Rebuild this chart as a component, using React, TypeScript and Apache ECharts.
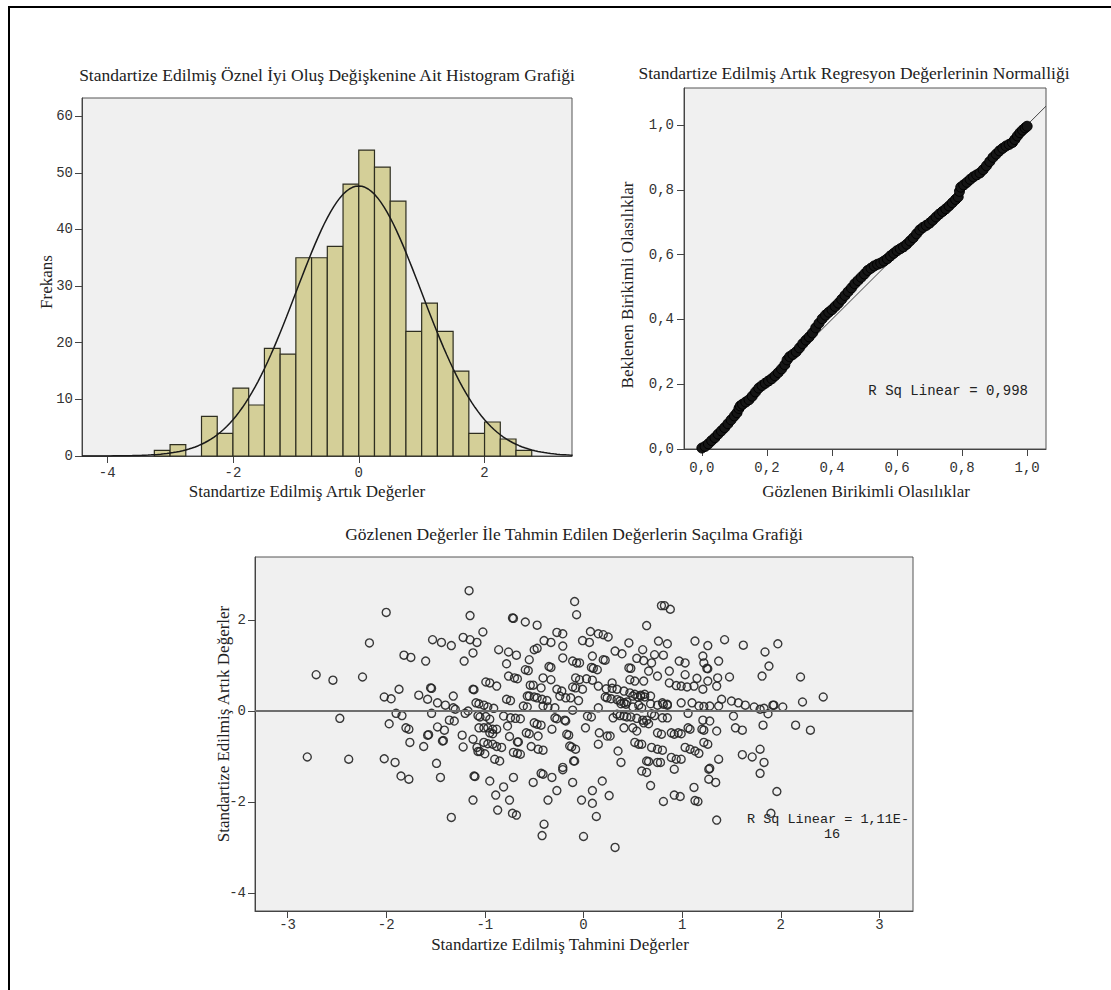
import { useEffect, useRef } from "react";
import * as echarts from "echarts";

// ---------- Histogram (standardized residuals) ----------
const HIST_BIN_WIDTH = 0.25;
const histBinLower = [-3.25, -3.0, -2.75, -2.5, -2.25, -2.0, -1.75, -1.5, -1.25, -1.0, -0.75, -0.5, -0.25, 0, 0.25, 0.5, 0.75, 1.0, 1.25, 1.5, 1.75, 2.0, 2.25, 2.5];
const histCounts = [1, 2, 0, 7, 4, 12, 9, 19, 18, 35, 35, 37, 48, 54, 51, 45, 22, 27, 22, 15, 4, 6, 3, 1];
const HIST_N = 477;
const HIST_MEAN = 0;
const HIST_SD = 0.998;
const histXTicks = [-4, -2, 0, 2];
const histYTicks = [0, 10, 20, 30, 40, 50, 60];

// ---------- P-P plot ----------
const ppObserved = [0.0, 0.01, 0.02, 0.03, 0.04, 0.05, 0.06, 0.07, 0.08, 0.09, 0.1, 0.108, 0.114, 0.118, 0.125, 0.135, 0.145, 0.155, 0.165, 0.175, 0.185, 0.195, 0.205, 0.215, 0.225, 0.235, 0.245, 0.255, 0.262, 0.27, 0.28, 0.29, 0.3, 0.31, 0.32, 0.33, 0.34, 0.35, 0.36, 0.37, 0.38, 0.39, 0.4, 0.41, 0.42, 0.43, 0.44, 0.45, 0.46, 0.47, 0.48, 0.49, 0.5, 0.51, 0.52, 0.53, 0.54, 0.55, 0.56, 0.57, 0.58, 0.59, 0.6, 0.61, 0.62, 0.63, 0.64, 0.65, 0.66, 0.67, 0.68, 0.69, 0.7, 0.71, 0.72, 0.73, 0.74, 0.75, 0.76, 0.77, 0.78, 0.788, 0.792, 0.796, 0.805, 0.815, 0.825, 0.835, 0.845, 0.855, 0.865, 0.875, 0.885, 0.895, 0.905, 0.915, 0.925, 0.935, 0.945, 0.955, 0.962, 0.97, 0.978, 0.986, 0.994, 1.0];
const ppExpected = [0.003, 0.008, 0.016, 0.026, 0.035, 0.046, 0.056, 0.066, 0.078, 0.09, 0.102, 0.112, 0.125, 0.133, 0.138, 0.145, 0.152, 0.163, 0.176, 0.188, 0.196, 0.203, 0.21, 0.217, 0.226, 0.236, 0.247, 0.26, 0.275, 0.285, 0.292, 0.3, 0.312, 0.325, 0.336, 0.346, 0.358, 0.374, 0.388, 0.402, 0.413, 0.422, 0.43, 0.44, 0.45, 0.462, 0.474, 0.486, 0.497, 0.51, 0.52, 0.53, 0.54, 0.551, 0.558, 0.565, 0.57, 0.574, 0.58, 0.587, 0.596, 0.604, 0.612, 0.618, 0.624, 0.632, 0.642, 0.652, 0.664, 0.676, 0.684, 0.69, 0.697, 0.706, 0.716, 0.725, 0.733, 0.741, 0.75, 0.76, 0.77, 0.778, 0.795, 0.808, 0.815, 0.823, 0.832, 0.84, 0.846, 0.852, 0.862, 0.874, 0.887, 0.9, 0.91, 0.92, 0.928, 0.935, 0.94, 0.946, 0.955, 0.966, 0.976, 0.984, 0.991, 0.996];
const ppTicks = [0, 0.2, 0.4, 0.6, 0.8, 1.0];

// ---------- Scatter (standardized predicted vs standardized residual) ----------
const scatterPoints: [number, number][] = [
  [-1.16, 2.65], [-0.09, 2.41], [0.79, 2.32], [0.82, 2.32], [0.88, 2.24], [-2.0, 2.17], [-1.15, 2.1], [-0.07, 2.12], [-0.72, 2.05], [-0.71, 2.04],
  [-0.59, 1.96], [-0.47, 1.89], [0.64, 1.88], [-1.02, 1.74], [-0.27, 1.73], [-0.21, 1.7], [0.07, 1.75], [0.15, 1.7], [0.2, 1.68], [0.25, 1.63],
  [-1.22, 1.62], [-1.15, 1.57], [-1.08, 1.51], [-1.53, 1.57], [-1.44, 1.51], [-1.34, 1.44], [-2.17, 1.5], [-0.4, 1.55], [-0.33, 1.51], [-0.01, 1.55],
  [0.06, 1.51], [-0.5, 1.35], [-0.47, 1.38], [-0.21, 1.43], [0.46, 1.5], [0.76, 1.54], [0.85, 1.48], [1.13, 1.54], [1.26, 1.44], [1.43, 1.57],
  [1.62, 1.45], [1.97, 1.48], [1.84, 1.3], [-0.86, 1.35], [-0.76, 1.3], [-0.68, 1.23], [0.32, 1.32], [0.39, 1.26], [0.6, 1.35], [0.72, 1.24],
  [0.81, 1.23], [-1.82, 1.23], [-1.75, 1.18], [-1.6, 1.1], [-1.21, 1.1], [-1.12, 1.28], [-0.78, 1.04], [-0.55, 1.13], [-0.21, 1.17], [-0.11, 1.1],
  [-0.07, 1.06], [-0.04, 1.06], [0.09, 1.21], [0.2, 1.13], [0.22, 1.12], [0.54, 1.16], [0.61, 1.11], [0.69, 1.06], [0.97, 1.1], [1.03, 1.06],
  [1.21, 1.21], [1.22, 1.06], [1.37, 1.1], [1.25, 0.94], [1.26, 0.93], [1.88, 0.99], [-2.71, 0.8], [-2.54, 0.68], [-2.24, 0.75], [1.81, 0.77],
  [2.2, 0.75], [1.48, 0.75], [-0.59, 0.91], [-0.56, 0.89], [-0.35, 0.98], [-0.33, 0.96], [0.08, 0.96], [0.1, 0.94], [0.14, 0.91], [0.46, 0.95],
  [0.48, 0.94], [0.66, 0.88], [0.75, 0.77], [0.87, 0.88], [1.03, 0.8], [1.15, 0.72], [1.26, 0.66], [1.36, 0.73], [-0.76, 0.77], [-0.7, 0.73],
  [-0.67, 0.71], [-0.41, 0.73], [-0.33, 0.69], [-0.08, 0.73], [-0.04, 0.69], [0.03, 0.71], [0.09, 0.68], [0.29, 0.62], [0.47, 0.69], [0.52, 0.66],
  [0.61, 0.66], [0.87, 0.62], [0.94, 0.56], [0.99, 0.55], [1.05, 0.53], [1.12, 0.55], [1.21, 0.48], [1.35, 0.55], [-0.99, 0.64], [-0.95, 0.62],
  [-0.88, 0.55], [-0.54, 0.57], [-0.51, 0.57], [-0.43, 0.51], [-0.27, 0.48], [-0.22, 0.44], [-0.11, 0.53], [-0.08, 0.51], [-0.01, 0.48], [0.15, 0.55],
  [0.23, 0.49], [0.29, 0.5], [0.34, 0.48], [0.41, 0.44], [0.47, 0.4], [0.52, 0.37], [0.58, 0.35], [0.62, 0.37], [0.68, 0.33], [-1.55, 0.51],
  [-1.54, 0.5], [-1.87, 0.48], [-1.12, 0.48], [-1.11, 0.47], [-1.32, 0.33], [-1.67, 0.35], [-2.02, 0.31], [-1.95, 0.27], [-0.57, 0.33], [-0.55, 0.33],
  [-0.5, 0.31], [-0.47, 0.29], [-0.42, 0.26], [-0.37, 0.23], [-0.24, 0.33], [-0.18, 0.29], [-0.13, 0.29], [-0.05, 0.23], [0.22, 0.31], [0.24, 0.29],
  [0.28, 0.27], [0.34, 0.25], [0.37, 0.22], [0.41, 0.18], [0.44, 0.2], [0.5, 0.33], [0.55, 0.31], [0.58, 0.33], [0.62, 0.31], [0.8, 0.18],
  [0.85, 0.15], [0.99, 0.18], [1.1, 0.18], [1.17, 0.11], [1.22, 0.1], [1.28, 0.11], [1.37, 0.11], [1.4, 0.26], [1.5, 0.22], [1.57, 0.18],
  [1.64, 0.13], [1.73, 0.09], [1.79, 0.04], [1.83, 0.06], [1.87, -0.06], [1.92, 0.13], [1.93, 0.13], [2.02, 0.09], [2.22, 0.2], [2.43, 0.31],
  [-1.58, 0.26], [-1.48, 0.18], [-1.4, 0.13], [-1.32, 0.07], [-1.3, 0.04], [-1.17, 0.0], [-1.09, 0.18], [-1.06, 0.16], [-1.01, 0.13], [-0.97, 0.09],
  [-0.91, 0.06], [-0.78, 0.26], [-0.74, 0.23], [-0.61, 0.11], [-0.57, 0.09], [-0.41, 0.11], [-0.36, 0.09], [-0.29, 0.07], [-0.11, 0.02], [0.15, 0.07],
  [0.38, 0.16], [0.43, 0.15], [0.5, 0.09], [0.56, 0.13], [0.59, 0.07], [0.68, 0.16], [0.75, 0.13], [0.81, 0.15], [0.85, 0.13], [1.06, -0.05],
  [-2.47, -0.16], [-1.9, -0.05], [-1.84, -0.1], [-1.97, -0.28], [-1.8, -0.37], [-1.77, -0.4], [-1.76, -0.69], [-1.58, -0.53], [-1.57, -0.52], [-1.62, -0.78],
  [-1.48, -0.35], [-1.41, -0.42], [-1.43, -0.66], [-1.42, -0.65], [-1.54, -0.05], [-1.36, -0.2], [-1.31, -0.22], [-1.23, -0.53], [-1.2, -0.05], [-1.12, -0.62],
  [-1.08, -0.8], [-1.07, -0.89], [-1.05, -0.89], [-1.22, -0.79], [-1.07, -0.1], [-1.05, -0.13], [-0.99, -0.12], [-0.95, -0.18], [-1.06, -0.37], [-1.01, -0.37],
  [-0.97, -0.37], [-0.92, -0.4], [-0.88, -0.4], [-0.95, -0.48], [-0.92, -0.5], [-1.01, -0.69], [-0.97, -0.72], [-0.92, -0.73], [-0.88, -0.78], [-0.83, -0.8],
  [-1.0, -0.94], [-0.9, -1.06], [-0.85, -1.1], [-0.81, -0.11], [-0.74, -0.15], [-0.69, -0.16], [-0.64, -0.17], [-0.77, -0.33], [-0.75, -0.56], [-0.67, -0.68],
  [-0.66, -0.68], [-0.71, -0.91], [-0.67, -0.93], [-0.64, -0.95], [-0.58, -0.48], [-0.55, -0.5], [-0.46, -0.55], [-0.53, -0.78], [-0.46, -0.84], [-0.41, -0.86],
  [-0.5, -0.26], [-0.47, -0.29], [-0.43, -0.31], [-0.29, -0.15], [-0.27, -0.17], [-0.32, -0.4], [-0.19, -0.2], [-0.18, -0.22], [-0.17, -0.51], [-0.15, -0.53],
  [-0.14, -0.77], [-0.12, -0.79], [-0.08, -0.84], [-0.1, -1.1], [0.02, -0.37], [0.04, -0.11], [0.08, -0.13], [0.16, -0.48], [0.24, -0.55], [0.27, -0.55],
  [0.15, -0.73], [0.3, -0.15], [0.34, -0.07], [0.37, -0.1], [0.41, -0.11], [0.44, -0.13], [0.48, -0.13], [0.54, -0.16], [0.6, -0.2], [0.64, -0.2],
  [0.35, -0.88], [0.38, -1.13], [0.41, -0.37], [0.5, -0.37], [0.54, -0.44], [0.61, -0.26], [0.66, -0.28], [0.52, -0.69], [0.56, -0.73], [0.59, -0.73],
  [0.64, -1.1], [0.66, -1.11], [0.59, -1.32], [0.64, -1.35], [0.69, -0.06], [0.72, -0.1], [0.8, -0.15], [0.85, -0.15], [0.75, -0.48], [0.79, -0.51],
  [0.69, -0.8], [0.75, -0.84], [0.8, -0.86], [0.75, -1.13], [0.78, -1.13], [0.68, -1.64], [0.81, -1.99], [0.89, -0.48], [0.92, -0.51], [0.96, -0.48],
  [0.99, -0.5], [0.89, -1.02], [0.94, -1.06], [0.99, -1.06], [0.92, -1.28], [0.92, -1.85], [0.98, -1.88], [1.06, -0.37], [1.08, -0.4], [1.03, -0.8],
  [1.08, -0.84], [1.13, -0.88], [1.17, -0.93], [1.13, -1.97], [1.16, -1.99], [1.12, -1.68], [1.21, -0.2], [1.28, -0.22], [1.2, -0.4], [1.22, -0.42],
  [1.22, -0.69], [1.26, -0.73], [1.35, -0.44], [1.37, -1.06], [1.28, -1.26], [1.27, -1.28], [1.27, -1.5], [1.34, -1.57], [1.35, -2.4], [1.52, -0.11],
  [1.54, -0.37], [1.61, -0.42], [1.61, -0.96], [1.71, -1.01], [1.79, -0.84], [1.82, -0.31], [1.83, -1.13], [1.79, -1.37], [1.96, -1.77], [1.9, -2.25],
  [2.15, -0.31], [2.3, -0.42], [-2.8, -1.01], [-2.38, -1.06], [-2.02, -1.05], [-1.91, -1.13], [-1.85, -1.43], [-1.77, -1.5], [-1.49, -1.15], [-1.45, -1.46],
  [-1.34, -2.34], [-1.11, -1.43], [-1.1, -1.44], [-1.12, -1.96], [-0.95, -1.54], [-0.81, -1.67], [-0.89, -1.85], [-0.87, -2.18], [-0.75, -1.96], [-0.72, -2.25],
  [-0.68, -2.29], [-0.71, -1.46], [-0.51, -1.57], [-0.43, -1.37], [-0.41, -1.39], [-0.32, -1.46], [-0.36, -1.96], [-0.4, -2.49], [-0.42, -2.74], [-0.27, -1.75],
  [-0.21, -1.29], [-0.21, -1.24], [-0.11, -1.57], [-0.09, -1.1], [-0.02, -1.96], [0.0, -2.76], [0.09, -1.75], [0.09, -2.03], [0.13, -2.32], [0.19, -1.54],
  [0.26, -1.86], [0.32, -3.0],
];
const scatterXTicks = [-3, -2, -1, 0, 1, 2, 3];
const scatterYTicks = [-4, -2, 0, 2];

// ---------- Texts ----------
const histTitle = "Standartize Edilmiş Öznel İyi Oluş Değişkenine Ait Histogram Grafiği";
const histXName = "Standartize Edilmiş Artık Değerler";
const histYName = "Frekans";
const ppTitle = "Standartize Edilmiş Artık Regresyon Değerlerinin Normalliği";
const ppXName = "Gözlenen Birikimli Olasılıklar";
const ppYName = "Beklenen Birikimli Olasılıklar";
const ppRsq = "R Sq Linear = 0,998";
const scTitle = "Gözlenen Değerler İle Tahmin Edilen Değerlerin Saçılma Grafiği";
const scXName = "Standartize Edilmiş Tahmini Değerler";
const scYName = "Standartize Edilmiş Artık Değerler";
const scRsqLine1 = "R Sq Linear = 1,11E-";
const scRsqLine2 = "16";

const SERIF = '"Liberation Serif", "Times New Roman", serif';
const MONO = '"Liberation Mono", "Courier New", monospace';

function valueAxis(gridIndex: number, min: number, max: number, ticks: number[], fmt: (v: number) => string, labelMargin: number) {
  return {
    type: "value",
    gridIndex,
    min,
    max,
    axisLine: { show: true, onZero: false, lineStyle: { color: "#444", width: 1 } },
    axisTick: { show: true, length: 7, customValues: ticks, lineStyle: { color: "#444", width: 1 } },
    axisLabel: { customValues: ticks, formatter: fmt, fontFamily: MONO, fontSize: 14, color: "#333", margin: labelMargin },
    splitLine: { show: false },
  };
}

const intFmt = (v: number) => String(Math.round(v));
const commaFmt = (v: number) => v.toFixed(1).replace(".", ",");

function label(text: string, x: number, y: number, font: string, rotated = false, align = "center") {
  return {
    type: "text",
    x,
    y,
    rotation: rotated ? Math.PI / 2 : 0,
    silent: true,
    style: { text, font, fill: "#222", textAlign: align, textVerticalAlign: "middle" },
  };
}

export default function App() {
  const ref = useRef<HTMLDivElement>(null);

  useEffect(() => {
    document.body.style.margin = "0";
    if (!ref.current) return;
    const chart = echarts.init(ref.current, undefined, { renderer: "svg" });

    const histData = histBinLower
      .map((lo, i) => [lo, lo + HIST_BIN_WIDTH, histCounts[i]])
      .filter((d) => d[2] > 0);

    const curve: [number, number][] = [];
    for (let x = -4.4; x <= 3.4; x += 0.05) {
      const z = (x - HIST_MEAN) / HIST_SD;
      curve.push([x, (HIST_N * HIST_BIN_WIDTH) / (HIST_SD * Math.sqrt(2 * Math.PI)) * Math.exp(-0.5 * z * z)]);
    }

    const ppData = ppObserved.map((o, i) => [o, ppExpected[i]]);

    const gridStyle = { show: true, backgroundColor: "#f0f0f0", borderColor: "#555", borderWidth: 1, containLabel: false };
    const nameFont = `17px ${SERIF}`;
    const titleFont = `17.5px ${SERIF}`;

    chart.setOption({
      animation: false,
      backgroundColor: "#ffffff",
      grid: [
        { ...gridStyle, left: 82, top: 98, width: 490, height: 358 },
        { ...gridStyle, left: 684, top: 88, width: 362, height: 361 },
        { ...gridStyle, left: 255, top: 557, width: 658, height: 354 },
      ],
      xAxis: [
        valueAxis(0, -4.4, 3.39, histXTicks, intFmt, 10),
        valueAxis(1, -0.055, 1.058, ppTicks, commaFmt, 12),
        valueAxis(2, -3.33, 3.34, scatterXTicks, intFmt, 7),
      ],
      yAxis: [
        valueAxis(0, 0, 63.2, histYTicks, intFmt, 9),
        valueAxis(1, 0, 1.114, ppTicks, commaFmt, 10),
        valueAxis(2, -4.4, 3.39, scatterYTicks, intFmt, 9),
      ],
      series: [
        {
          type: "custom",
          xAxisIndex: 0,
          yAxisIndex: 0,
          data: histData,
          encode: { x: [0, 1], y: 2 },
          renderItem: (_params: any, api: any) => {
            const p0 = api.coord([api.value(0), api.value(2)]);
            const p1 = api.coord([api.value(1), 0]);
            return {
              type: "rect",
              shape: { x: p0[0], y: p0[1], width: p1[0] - p0[0], height: p1[1] - p0[1] },
              style: { fill: "#d4cf98", stroke: "#2e2e20", lineWidth: 1.2 },
            };
          },
          z: 2,
        },
        {
          type: "line",
          xAxisIndex: 0,
          yAxisIndex: 0,
          data: curve,
          showSymbol: false,
          symbol: "none",
          lineStyle: { color: "#1a1a1a", width: 1.5 },
          z: 3,
        },
        {
          type: "line",
          xAxisIndex: 1,
          yAxisIndex: 1,
          data: [[-0.055, -0.055], [1.058, 1.058]],
          symbol: "none",
          lineStyle: { color: "#444", width: 1 },
          z: 2,
        },
        {
          type: "scatter",
          xAxisIndex: 1,
          yAxisIndex: 1,
          data: ppData,
          symbol: "circle",
          symbolSize: 10,
          itemStyle: { color: "#151515", borderColor: "#000", borderWidth: 1, opacity: 1 },
          z: 3,
        },
        {
          type: "scatter",
          xAxisIndex: 2,
          yAxisIndex: 2,
          data: scatterPoints,
          symbol: "circle",
          symbolSize: 8,
          itemStyle: { color: "rgba(0,0,0,0)", borderColor: "rgba(35,35,35,0.9)", borderWidth: 1.4, opacity: 1 },
          markLine: {
            silent: true,
            symbol: "none",
            label: { show: false },
            lineStyle: { color: "#6e6e6e", width: 2, type: "solid" },
            data: [{ yAxis: 0 }],
          },
          z: 3,
        },
      ],
      graphic: [
        { type: "rect", silent: true, z: -10, shape: { x: 9, y: 7, width: 1200, height: 1100 }, style: { fill: "none", stroke: "#000", lineWidth: 2 } },
        label(histTitle, 327, 75, titleFont),
        label(ppTitle, 854, 73, titleFont),
        label(scTitle, 574, 534, titleFont),
        label(histXName, 307, 491, nameFont),
        label(histYName, 46, 282, nameFont, true),
        label(ppXName, 866, 491, nameFont),
        label(ppYName, 627, 285, nameFont, true),
        label(scXName, 560, 944, nameFont),
        label(scYName, 223, 724, nameFont, true),
        label(ppRsq, 1028, 391, `14px ${MONO}`, false, "right"),
        label(scRsqLine1, 747, 819, `13.5px ${MONO}`, false, "left"),
        label(scRsqLine2, 832, 834, `13.5px ${MONO}`),
      ],
    });

    return () => chart.dispose();
  }, []);

  return <div ref={ref} style={{ width: 1111, height: 990 }} />;
}
